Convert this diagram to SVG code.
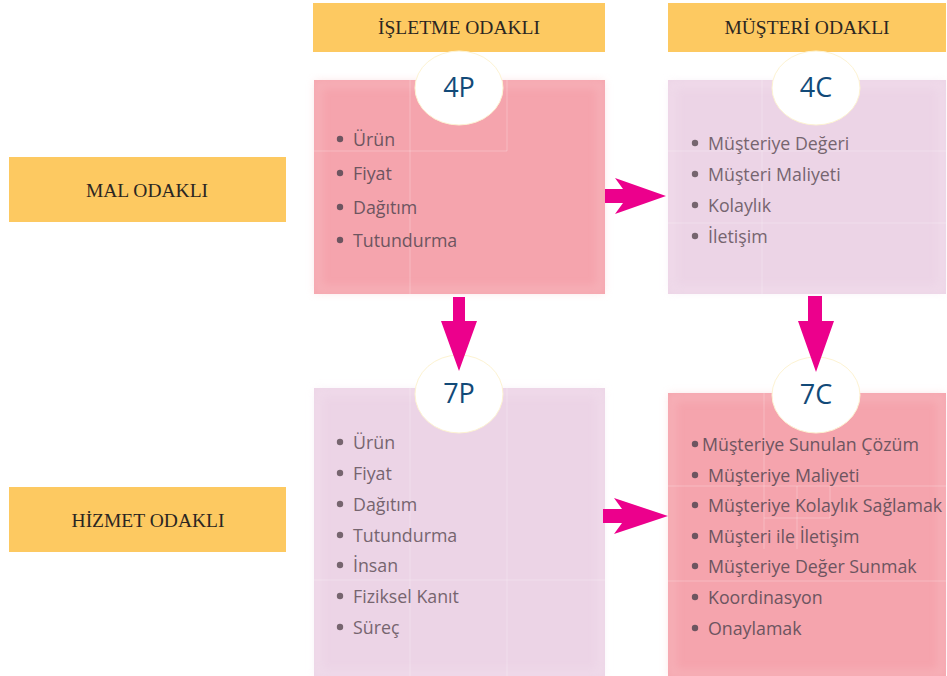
<svg xmlns="http://www.w3.org/2000/svg" width="947" height="676" viewBox="0 0 947 676">
<style>
.hdr{fill:#fdc961}
.htxt{font-family:"Liberation Serif",serif;font-size:19.5px;fill:#2b2622;text-anchor:middle}
.pink{fill:#f5a4ad}
.lav{fill:#ecd4e6}
.grid{stroke:#ffffff;stroke-opacity:0.25;stroke-width:1;fill:none}
.circ{fill:#ffffff;stroke:#fdf3d2;stroke-width:1}
.ctxt{font-family:"Open Sans",sans-serif;font-size:27px;fill:#124a78;text-anchor:middle}
.item{font-family:"Open Sans",sans-serif;font-size:17.8px;fill:#76656f}
.bul{fill:#76656f}
.pitem{font-family:"Open Sans",sans-serif;font-size:17.8px;fill:#6d5560}
.pbul{fill:#6d5560}
.arr{fill:#ec008c}
</style>
<defs>
<filter id="soft" x="-5%" y="-5%" width="110%" height="110%">
<feGaussianBlur stdDeviation="4"/>
</filter>
</defs>

<g id="header-isletme">
<rect class="hdr" x="313" y="3" width="292" height="49"/>
<text class="htxt" x="459" y="34">İŞLETME ODAKLI</text>
</g>
<g id="header-musteri">
<rect class="hdr" x="668" y="3" width="278" height="49"/>
<text class="htxt" x="807" y="34">MÜŞTERİ ODAKLI</text>
</g>
<g id="mal-odakli">
<rect class="hdr" x="9" y="157" width="277" height="65"/>
<text class="htxt" x="147" y="197">MAL ODAKLI</text>
</g>
<g id="hizmet-odakli">
<rect class="hdr" x="9" y="487" width="277" height="65"/>
<text class="htxt" x="148" y="527">HİZMET ODAKLI</text>
</g>

<g id="panel-4p">
<rect class="pink" x="314" y="80" width="291" height="214"/>
<rect x="318" y="84" width="283" height="206" fill="none" stroke="#f9c3c8" stroke-width="6" opacity="0.5" filter="url(#soft)"/>
<path class="grid" d="M410 80V294M507 80V151M314 151H507"/>
<ellipse class="circ" cx="459" cy="88" rx="44" ry="37"/>
<text class="ctxt" x="459" y="97">4P</text>
<circle class="pbul" cx="340" cy="139" r="3.2"/>
<text class="pitem" x="353" y="146">Ürün</text>
<circle class="pbul" cx="340" cy="173" r="3.2"/>
<text class="pitem" x="353" y="180">Fiyat</text>
<circle class="pbul" cx="340" cy="207" r="3.2"/>
<text class="pitem" x="353" y="214">Dağıtım</text>
<circle class="pbul" cx="340" cy="240" r="3.2"/>
<text class="pitem" x="353" y="247">Tutundurma</text>
</g>

<g id="panel-4c">
<rect class="lav" x="668" y="80" width="278" height="214"/>
<rect x="672" y="84" width="270" height="206" fill="none" stroke="#f5e4f0" stroke-width="6" opacity="0.5" filter="url(#soft)"/>
<path class="grid" d="M668 151H946M668 223H946M762 80V294"/>
<ellipse class="circ" cx="816" cy="88" rx="44" ry="37"/>
<text class="ctxt" x="816" y="97">4C</text>
<circle class="bul" cx="695" cy="143" r="3.2"/>
<text class="item" x="708" y="150">Müşteriye Değeri</text>
<circle class="bul" cx="695" cy="174" r="3.2"/>
<text class="item" x="708" y="181">Müşteri Maliyeti</text>
<circle class="bul" cx="695" cy="205" r="3.2"/>
<text class="item" x="708" y="212">Kolaylık</text>
<circle class="bul" cx="695" cy="236" r="3.2"/>
<text class="item" x="708" y="243">İletişim</text>
</g>

<g id="panel-7p">
<rect class="lav" x="314" y="388" width="291" height="288"/>
<rect x="318" y="392" width="283" height="282" fill="none" stroke="#f5e4f0" stroke-width="6" opacity="0.5" filter="url(#soft)"/>
<path class="grid" d="M410 388V676M507 388V676M314 580H605"/>
<ellipse class="circ" cx="459" cy="394" rx="44" ry="39"/>
<text class="ctxt" x="459" y="403">7P</text>
<circle class="bul" cx="340" cy="442" r="3.2"/>
<text class="item" x="353" y="449">Ürün</text>
<circle class="bul" cx="340" cy="473" r="3.2"/>
<text class="item" x="353" y="480">Fiyat</text>
<circle class="bul" cx="340" cy="504" r="3.2"/>
<text class="item" x="353" y="511">Dağıtım</text>
<circle class="bul" cx="340" cy="535" r="3.2"/>
<text class="item" x="353" y="542">Tutundurma</text>
<circle class="bul" cx="340" cy="565" r="3.2"/>
<text class="item" x="353" y="572">İnsan</text>
<circle class="bul" cx="340" cy="596" r="3.2"/>
<text class="item" x="353" y="603">Fiziksel Kanıt</text>
<circle class="bul" cx="340" cy="627" r="3.2"/>
<text class="item" x="353" y="634">Süreç</text>
</g>

<g id="panel-7c">
<rect class="pink" x="668" y="393" width="278" height="283"/>
<rect x="672" y="397" width="270" height="277" fill="none" stroke="#f9c3c8" stroke-width="6" opacity="0.5" filter="url(#soft)"/>
<path class="grid" d="M668 486H946M668 581H946M764 393V549M797 486V549M764 518H830M830 486V518"/>
<ellipse class="circ" cx="816" cy="395" rx="44" ry="38"/>
<text class="ctxt" x="816" y="404">7C</text>
<circle class="pbul" cx="695" cy="444" r="3.2"/>
<text class="pitem" x="702" y="451">Müşteriye Sunulan Çözüm</text>
<circle class="pbul" cx="695" cy="475" r="3.2"/>
<text class="pitem" x="708" y="482">Müşteriye Maliyeti</text>
<circle class="pbul" cx="695" cy="505" r="3.2"/>
<text class="pitem" x="708" y="512">Müşteriye Kolaylık Sağlamak</text>
<circle class="pbul" cx="695" cy="536" r="3.2"/>
<text class="pitem" x="708" y="543">Müşteri ile İletişim</text>
<circle class="pbul" cx="695" cy="566" r="3.2"/>
<text class="pitem" x="708" y="573">Müşteriye Değer Sunmak</text>
<circle class="pbul" cx="695" cy="597" r="3.2"/>
<text class="pitem" x="708" y="604">Koordinasyon</text>
<circle class="pbul" cx="695" cy="628" r="3.2"/>
<text class="pitem" x="708" y="635">Onaylamak</text>
</g>

<g id="connectors">
<polygon class="arr" points="605,189 623,189 615,178 666,196 615,214 623,203 605,203"/>
<polygon class="arr" points="603,509 622,509 614,498 668,516 614,534 622,523 603,523"/>
<polygon class="arr" points="453,297 465,297 465,321 477,321 459,371 441,321 453,321"/>
<polygon class="arr" points="808,296 822,296 822,321 834,321 816,372 798,321 808,321"/>
</g>
</svg>
